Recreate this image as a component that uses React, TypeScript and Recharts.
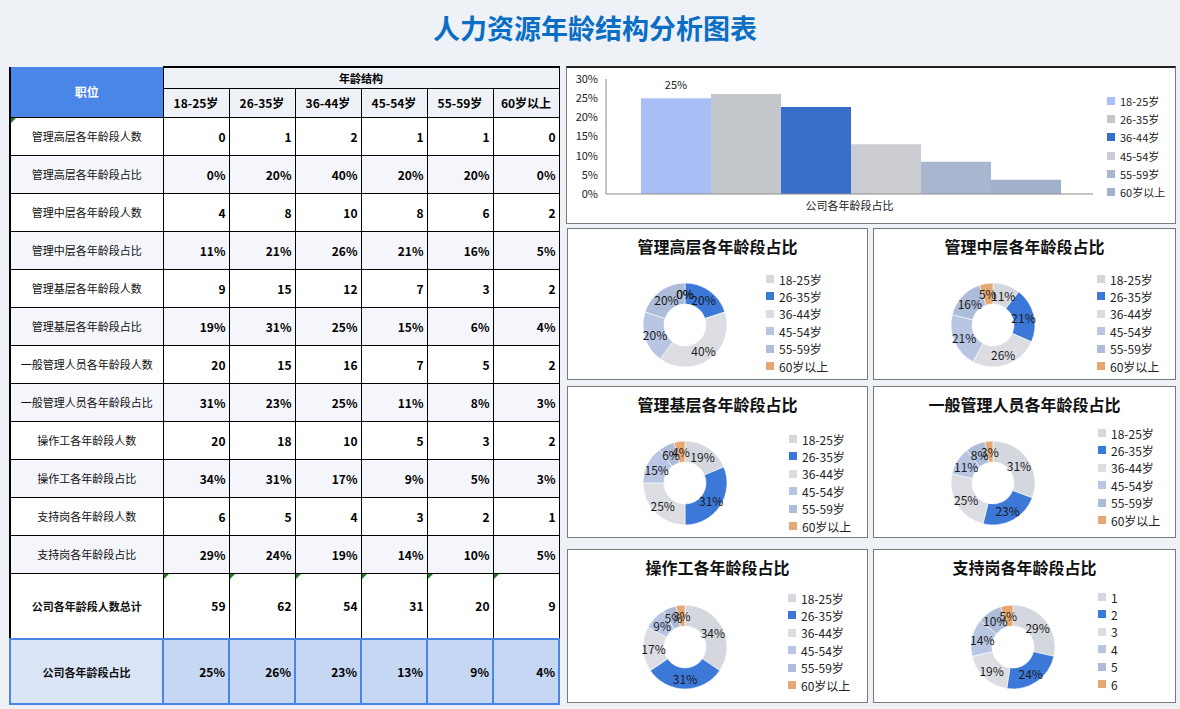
import React from 'react';
import { BarChart, Bar, XAxis, YAxis, LabelList, PieChart, Pie } from 'recharts';

const ageGroups = ['18-25岁', '26-35岁', '36-44岁', '45-54岁', '55-59岁', '60岁以上'];
const supportLegend = ['1', '2', '3', '4', '5', '6'];

const seniorCounts = [0, 1, 2, 1, 1, 0];
const seniorShares = ['0%', '20%', '40%', '20%', '20%', '0%'];
const middleCounts = [4, 8, 10, 8, 6, 2];
const middleShares = ['11%', '21%', '26%', '21%', '16%', '5%'];
const juniorCounts = [9, 15, 12, 7, 3, 2];
const juniorShares = ['19%', '31%', '25%', '15%', '6%', '4%'];
const staffCounts = [20, 15, 16, 7, 5, 2];
const staffShares = ['31%', '23%', '25%', '11%', '8%', '3%'];
const workerCounts = [20, 18, 10, 5, 3, 2];
const workerShares = ['34%', '31%', '17%', '9%', '5%', '3%'];
const supportCounts = [6, 5, 4, 3, 2, 1];
const supportShares = ['29%', '24%', '19%', '14%', '10%', '5%'];
const totalCounts = [59, 62, 54, 31, 20, 9];
const totalShares = ['25%', '26%', '23%', '13%', '9%', '4%'];

const companyBarValues = [25, 26.1, 22.7, 13, 8.4, 3.7];
const yTicks = [0, 5, 10, 15, 20, 25, 30];

const barColors = ['#a9bdf7', '#c4c7cb', '#386ec9', '#cbccd1', '#a9b6d0', '#a1b0cb'];
const donutColors = ['#d4d7dd', '#3c78d8', '#dcdde2', '#b8c5e3', '#adbcd9', '#e6a872'];

const FONT = '"Noto Sans CJK SC", "Noto Sans", sans-serif';

const tableRows: { label: string; values: (number | string)[]; shaded: boolean; mark?: boolean }[] = [
  { label: '管理高层各年龄段人数', values: seniorCounts, shaded: false, mark: true },
  { label: '管理高层各年龄段占比', values: seniorShares, shaded: true },
  { label: '管理中层各年龄段人数', values: middleCounts, shaded: false },
  { label: '管理中层各年龄段占比', values: middleShares, shaded: true },
  { label: '管理基层各年龄段人数', values: juniorCounts, shaded: false },
  { label: '管理基层各年龄段占比', values: juniorShares, shaded: true },
  { label: '一般管理人员各年龄段人数', values: staffCounts, shaded: false },
  { label: '一般管理人员各年龄段占比', values: staffShares, shaded: true },
  { label: '操作工各年龄段人数', values: workerCounts, shaded: false },
  { label: '操作工各年龄段占比', values: workerShares, shaded: true },
  { label: '支持岗各年龄段人数', values: supportCounts, shaded: false },
  { label: '支持岗各年龄段占比', values: supportShares, shaded: true },
];

const GreenMark = () => (
  <span
    style={{
      position: 'absolute',
      left: 0,
      top: 0,
      width: 0,
      height: 0,
      borderTop: '5px solid #1e7b1e',
      borderRight: '5px solid transparent',
    }}
  />
);

function DataTable() {
  const cellBase: React.CSSProperties = {
    border: '1px solid #000',
    padding: 0,
    position: 'relative',
  };
  const numCell: React.CSSProperties = {
    ...cellBase,
    textAlign: 'right',
    paddingRight: 3,
    fontWeight: 700,
    fontSize: 12,
    color: '#000',
  };
  const labelCell: React.CSSProperties = {
    ...cellBase,
    textAlign: 'center',
    fontSize: 11,
    color: '#111',
  };
  return (
    <table
      style={{
        position: 'absolute',
        left: 9,
        top: 66,
        borderCollapse: 'collapse',
        tableLayout: 'fixed',
        fontFamily: FONT,
        width: 549,
        borderLeft: '2px solid #000',
      }}
    >
      <colgroup>
        <col style={{ width: 153 }} />
        {ageGroups.map((g) => (
          <col key={g} style={{ width: 66 }} />
        ))}
      </colgroup>
      <tbody>
        <tr style={{ height: 21 }}>
          <td
            rowSpan={2}
            style={{
              ...cellBase,
              background: '#4a86e8',
              color: '#fff',
              fontWeight: 700,
              fontSize: 12,
              textAlign: 'center',
              border: 'none',
            }}
          >
            职位
          </td>
          <td
            colSpan={6}
            style={{
              ...cellBase,
              borderTop: '2px solid #000',
              background: '#eef1f6',
              fontWeight: 700,
              fontSize: 11,
              textAlign: 'center',
            }}
          >
            年龄结构
          </td>
        </tr>
        <tr style={{ height: 29 }}>
          {ageGroups.map((g) => (
            <td
              key={g}
              style={{ ...cellBase, background: '#eef1f6', fontWeight: 700, fontSize: 12, textAlign: 'center' }}
            >
              {g}
            </td>
          ))}
        </tr>
        {tableRows.map((r) => (
          <tr key={r.label} style={{ height: 38, background: r.shaded ? '#f5f6fb' : '#ffffff' }}>
            <td style={labelCell}>
              {r.mark && <GreenMark />}
              {r.label}
            </td>
            {r.values.map((v, i) => (
              <td key={i} style={numCell}>
                {v}
              </td>
            ))}
          </tr>
        ))}
        <tr style={{ height: 66, background: '#fff' }}>
          <td style={{ ...labelCell, fontWeight: 700 }}>公司各年龄段人数总计</td>
          {totalCounts.map((v, i) => (
            <td key={i} style={numCell}>
              <GreenMark />
              {v}
            </td>
          ))}
        </tr>
        <tr style={{ height: 65 }}>
          <td
            style={{
              ...labelCell,
              fontWeight: 700,
              background: '#dae6f7',
              border: '2px solid #4a86e8',
            }}
          >
            公司各年龄段占比
          </td>
          {totalShares.map((v, i) => (
            <td key={i} style={{ ...numCell, background: '#c5d7f3', border: '2px solid #4a86e8' }}>
              {v}
            </td>
          ))}
        </tr>
      </tbody>
    </table>
  );
}

function LegendList({
  names,
  colors,
  x,
  y,
  step,
  fontSize,
}: {
  names: string[];
  colors: string[];
  x: number;
  y: number;
  step: number;
  fontSize: number;
}) {
  return (
    <>
      {names.map((n, i) => (
        <div
          key={n}
          style={{
            position: 'absolute',
            left: x,
            top: y + i * step - 8,
            height: 16,
            display: 'flex',
            alignItems: 'center',
            fontSize,
            color: '#222',
            whiteSpace: 'nowrap',
            fontFamily: FONT,
          }}
        >
          <span style={{ display: 'inline-block', width: 8, height: 8, background: colors[i], marginRight: 5 }} />
          {n}
        </div>
      ))}
    </>
  );
}

function CompanyBarPanel() {
  const row: Record<string, string | number> = { name: '公司各年龄段占比' };
  ageGroups.forEach((g, i) => {
    row[g] = companyBarValues[i];
  });
  const data = [row];
  return (
    <div
      style={{
        position: 'absolute',
        left: 566,
        top: 66,
        width: 610,
        height: 158,
        background: '#fff',
        border: '1px solid #7a7a7a',
        borderTop: '2px solid #222',
        boxSizing: 'border-box',
      }}
    >
      <div style={{ position: 'absolute', left: -1, top: -2 }}>
        <BarChart
          width={610}
          height={159}
          data={data}
          margin={{ top: 13, right: 83, bottom: 6, left: 5 }}
          barCategoryGap={35}
          barGap={0}
        >
          <XAxis
            dataKey="name"
            height={25}
            tickLine={false}
            axisLine={{ stroke: '#8c8c8c' }}
            tick={{ fontSize: 11, fill: '#222', fontFamily: FONT }}
          />
          <YAxis
            width={35}
            domain={[0, 30]}
            ticks={yTicks}
            interval={0}
            tickFormatter={(v: number) => `${v}%`}
            tickLine={false}
            axisLine={{ stroke: '#8c8c8c' }}
            tick={{ fontSize: 11, fill: '#222', fontFamily: FONT }}
          />
          {ageGroups.map((g, i) => (
            <Bar key={g} dataKey={g} fill={barColors[i]} isAnimationActive={false}>
              {i === 0 && (
                <LabelList
                  dataKey={g}
                  position="top"
                  offset={9}
                  formatter={(v: any) => `${Math.round(Number(v))}%`}
                  style={{ fontSize: 11, fill: '#222', fontFamily: FONT }}
                />
              )}
            </Bar>
          ))}
        </BarChart>
      </div>
      <LegendList names={ageGroups} colors={barColors} x={540} y={33} step={18.2} fontSize={11} />
    </div>
  );
}

const RAD = Math.PI / 180;
const makeLabel = (labels: string[]) => (props: any) => {
  const { cx, cy, midAngle, innerRadius, outerRadius, index } = props;
  const r = (innerRadius + outerRadius) / 2;
  const x = cx + r * Math.cos(-midAngle * RAD);
  const y = cy + r * Math.sin(-midAngle * RAD);
  return (
    <text
      x={x}
      y={y}
      textAnchor="middle"
      dominantBaseline="central"
      fontSize={12}
      fill="#1a1a1a"
      fontFamily={FONT}
    >
      {labels[index]}
    </text>
  );
};

function DonutPanel({
  left,
  top,
  width,
  height,
  title,
  counts,
  shares,
  legendNames,
  cx,
  cy,
  legendX,
  legendY,
}: {
  left: number;
  top: number;
  width: number;
  height: number;
  title: string;
  counts: number[];
  shares: string[];
  legendNames: string[];
  cx: number;
  cy: number;
  legendX: number;
  legendY: number;
}) {
  const data = legendNames.map((n, i) => ({ name: n, value: counts[i], fill: donutColors[i] }));
  return (
    <div
      style={{
        position: 'absolute',
        left,
        top,
        width,
        height,
        background: '#fff',
        border: '1px solid #7a7a7a',
        boxSizing: 'border-box',
      }}
    >
      <div
        style={{
          position: 'absolute',
          left: 0,
          top: 8,
          width: '100%',
          textAlign: 'center',
          fontSize: 16,
          lineHeight: '18px',
          fontWeight: 700,
          color: '#111',
          fontFamily: FONT,
        }}
      >
        {title}
      </div>
      <div style={{ position: 'absolute', left: -1, top: -1 }}>
        <PieChart width={width} height={height}>
          <Pie
            data={data}
            dataKey="value"
            nameKey="name"
            cx={cx}
            cy={cy}
            innerRadius={21}
            outerRadius={42}
            startAngle={90}
            endAngle={-270}
            stroke="#ffffff"
            strokeWidth={0.6}
            label={makeLabel(shares)}
            labelLine={false}
            isAnimationActive={false}
          />
        </PieChart>
      </div>
      <LegendList names={legendNames} colors={donutColors} x={legendX} y={legendY} step={17.4} fontSize={12} />
    </div>
  );
}

export default function App() {
  return (
    <div
      style={{
        position: 'absolute',
        left: 0,
        top: 0,
        width: 1180,
        height: 709,
        background: '#eef1f6',
        overflow: 'hidden',
        fontFamily: FONT,
      }}
    >
      <div
        style={{
          position: 'absolute',
          left: 0,
          top: 13,
          width: 1190,
          textAlign: 'center',
          fontSize: 27,
          lineHeight: '30px',
          fontWeight: 700,
          color: '#0a6fc4',
        }}
      >
        人力资源年龄结构分析图表
      </div>
      <DataTable />
      <CompanyBarPanel />
      <DonutPanel left={567} top={228} width={301} height={152} title="管理高层各年龄段占比" counts={seniorCounts} shares={seniorShares} legendNames={ageGroups} cx={113} cy={92} legendX={198} legendY={50} />
      <DonutPanel left={873} top={228} width={303} height={152} title="管理中层各年龄段占比" counts={middleCounts} shares={middleShares} legendNames={ageGroups} cx={115} cy={92} legendX={223} legendY={50} />
      <DonutPanel left={567} top={386} width={301} height={152} title="管理基层各年龄段占比" counts={juniorCounts} shares={juniorShares} legendNames={ageGroups} cx={113} cy={92} legendX={221} legendY={52} />
      <DonutPanel left={873} top={386} width={303} height={152} title="一般管理人员各年龄段占比" counts={staffCounts} shares={staffShares} legendNames={ageGroups} cx={115} cy={92} legendX={224} legendY={46} />
      <DonutPanel left={567} top={549} width={301} height={154} title="操作工各年龄段占比" counts={workerCounts} shares={workerShares} legendNames={ageGroups} cx={113} cy={93} legendX={220} legendY={48} />
      <DonutPanel left={873} top={549} width={303} height={154} title="支持岗各年龄段占比" counts={supportCounts} shares={supportShares} legendNames={supportLegend} cx={135} cy={93} legendX={224} legendY={47} />
    </div>
  );
}
